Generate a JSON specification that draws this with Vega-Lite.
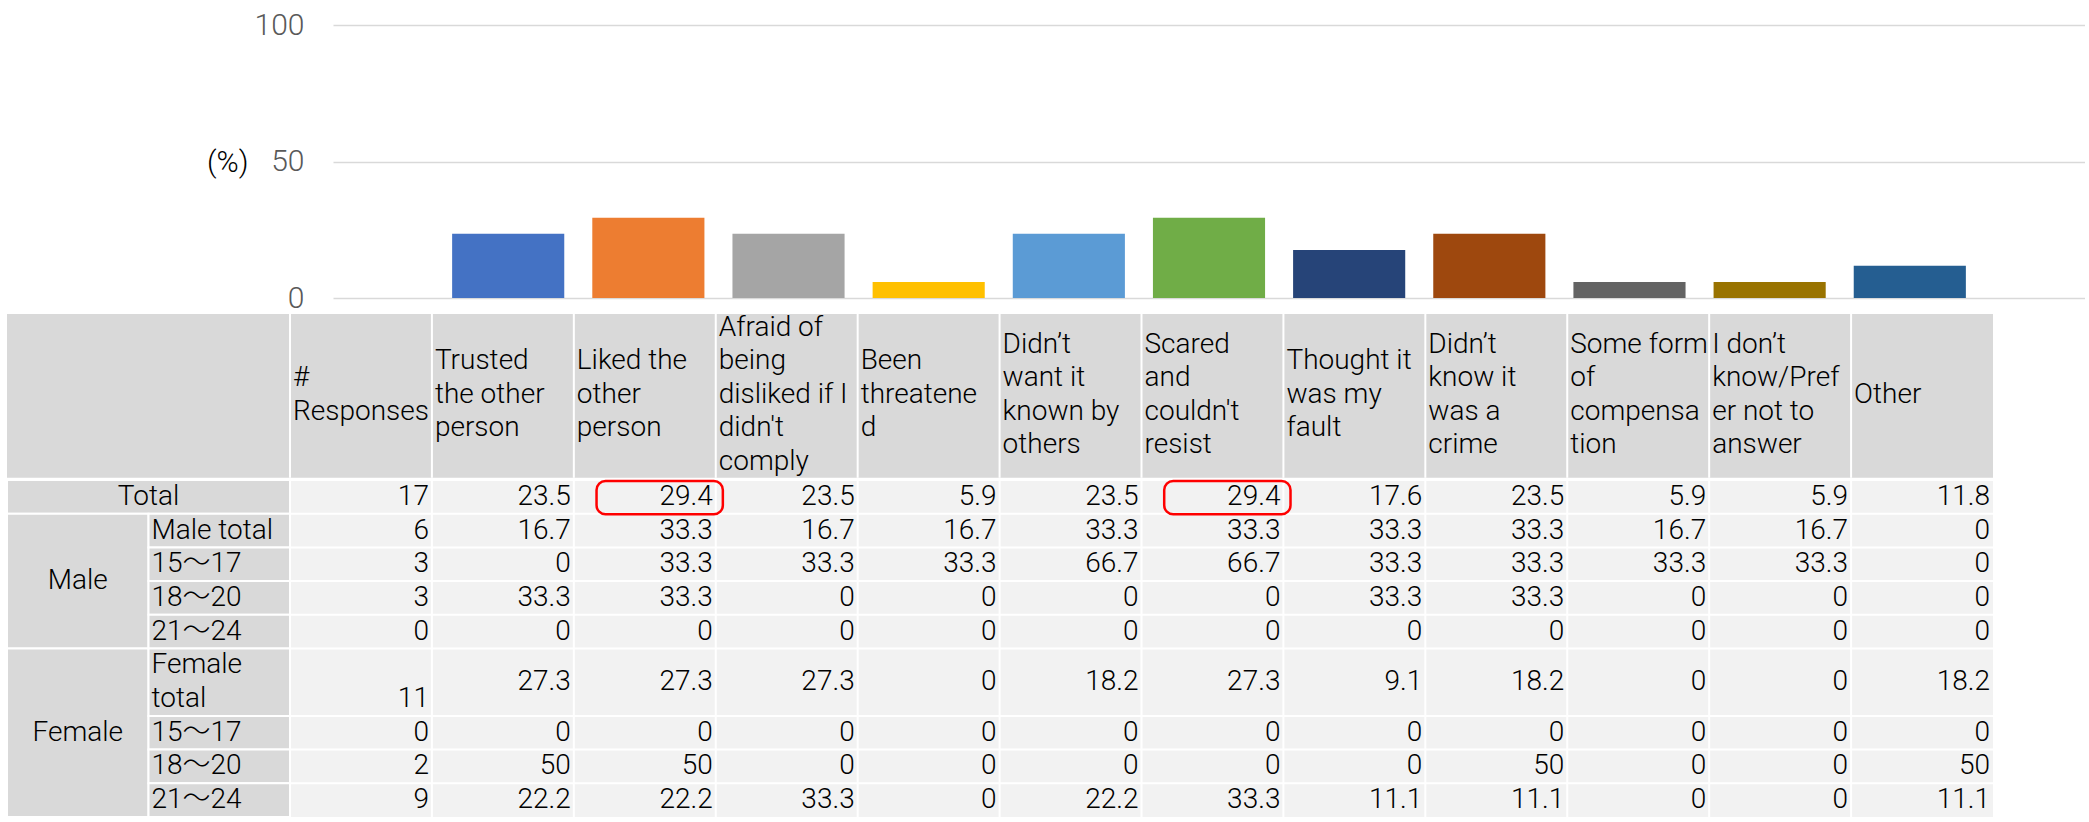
{
  "$schema": "https://vega.github.io/schema/vega-lite/v6.json",
  "padding": {"left": 6, "top": 10, "right": 0, "bottom": 0},
  "background": "white",
  "config": {
    "font": "Roboto, 'Noto Sans CJK JP', sans-serif",
    "view": {"stroke": null}
  },
  "datasets": {
    "cells": [
      {"row": "Total", "col": "#\nResponses", "v": 17},
      {"row": "Total", "col": "Trusted\nthe other\nperson", "v": 23.5},
      {"row": "Total", "col": "Liked the\nother\nperson", "v": 29.4},
      {"row": "Total", "col": "Afraid of\nbeing\ndisliked if I\ndidn't\ncomply", "v": 23.5},
      {"row": "Total", "col": "Been\nthreatene\nd", "v": 5.9},
      {"row": "Total", "col": "Didn’t\nwant it\nknown by\nothers", "v": 23.5},
      {"row": "Total", "col": "Scared\nand\ncouldn't\nresist", "v": 29.4},
      {"row": "Total", "col": "Thought it\nwas my\nfault", "v": 17.6},
      {"row": "Total", "col": "Didn’t\nknow it\nwas a\ncrime", "v": 23.5},
      {"row": "Total", "col": "Some form\nof\ncompensa\ntion", "v": 5.9},
      {"row": "Total", "col": "I don’t\nknow/Pref\ner not to\nanswer", "v": 5.9},
      {"row": "Total", "col": "Other", "v": 11.8},

      {"row": "Male total", "col": "#\nResponses", "v": 6},
      {"row": "Male total", "col": "Trusted\nthe other\nperson", "v": 16.7},
      {"row": "Male total", "col": "Liked the\nother\nperson", "v": 33.3},
      {"row": "Male total", "col": "Afraid of\nbeing\ndisliked if I\ndidn't\ncomply", "v": 16.7},
      {"row": "Male total", "col": "Been\nthreatene\nd", "v": 16.7},
      {"row": "Male total", "col": "Didn’t\nwant it\nknown by\nothers", "v": 33.3},
      {"row": "Male total", "col": "Scared\nand\ncouldn't\nresist", "v": 33.3},
      {"row": "Male total", "col": "Thought it\nwas my\nfault", "v": 33.3},
      {"row": "Male total", "col": "Didn’t\nknow it\nwas a\ncrime", "v": 33.3},
      {"row": "Male total", "col": "Some form\nof\ncompensa\ntion", "v": 16.7},
      {"row": "Male total", "col": "I don’t\nknow/Pref\ner not to\nanswer", "v": 16.7},
      {"row": "Male total", "col": "Other", "v": 0},

      {"row": "Male 15～17", "col": "#\nResponses", "v": 3},
      {"row": "Male 15～17", "col": "Trusted\nthe other\nperson", "v": 0},
      {"row": "Male 15～17", "col": "Liked the\nother\nperson", "v": 33.3},
      {"row": "Male 15～17", "col": "Afraid of\nbeing\ndisliked if I\ndidn't\ncomply", "v": 33.3},
      {"row": "Male 15～17", "col": "Been\nthreatene\nd", "v": 33.3},
      {"row": "Male 15～17", "col": "Didn’t\nwant it\nknown by\nothers", "v": 66.7},
      {"row": "Male 15～17", "col": "Scared\nand\ncouldn't\nresist", "v": 66.7},
      {"row": "Male 15～17", "col": "Thought it\nwas my\nfault", "v": 33.3},
      {"row": "Male 15～17", "col": "Didn’t\nknow it\nwas a\ncrime", "v": 33.3},
      {"row": "Male 15～17", "col": "Some form\nof\ncompensa\ntion", "v": 33.3},
      {"row": "Male 15～17", "col": "I don’t\nknow/Pref\ner not to\nanswer", "v": 33.3},
      {"row": "Male 15～17", "col": "Other", "v": 0},

      {"row": "Male 18～20", "col": "#\nResponses", "v": 3},
      {"row": "Male 18～20", "col": "Trusted\nthe other\nperson", "v": 33.3},
      {"row": "Male 18～20", "col": "Liked the\nother\nperson", "v": 33.3},
      {"row": "Male 18～20", "col": "Afraid of\nbeing\ndisliked if I\ndidn't\ncomply", "v": 0},
      {"row": "Male 18～20", "col": "Been\nthreatene\nd", "v": 0},
      {"row": "Male 18～20", "col": "Didn’t\nwant it\nknown by\nothers", "v": 0},
      {"row": "Male 18～20", "col": "Scared\nand\ncouldn't\nresist", "v": 0},
      {"row": "Male 18～20", "col": "Thought it\nwas my\nfault", "v": 33.3},
      {"row": "Male 18～20", "col": "Didn’t\nknow it\nwas a\ncrime", "v": 33.3},
      {"row": "Male 18～20", "col": "Some form\nof\ncompensa\ntion", "v": 0},
      {"row": "Male 18～20", "col": "I don’t\nknow/Pref\ner not to\nanswer", "v": 0},
      {"row": "Male 18～20", "col": "Other", "v": 0},

      {"row": "Male 21～24", "col": "#\nResponses", "v": 0},
      {"row": "Male 21～24", "col": "Trusted\nthe other\nperson", "v": 0},
      {"row": "Male 21～24", "col": "Liked the\nother\nperson", "v": 0},
      {"row": "Male 21～24", "col": "Afraid of\nbeing\ndisliked if I\ndidn't\ncomply", "v": 0},
      {"row": "Male 21～24", "col": "Been\nthreatene\nd", "v": 0},
      {"row": "Male 21～24", "col": "Didn’t\nwant it\nknown by\nothers", "v": 0},
      {"row": "Male 21～24", "col": "Scared\nand\ncouldn't\nresist", "v": 0},
      {"row": "Male 21～24", "col": "Thought it\nwas my\nfault", "v": 0},
      {"row": "Male 21～24", "col": "Didn’t\nknow it\nwas a\ncrime", "v": 0},
      {"row": "Male 21～24", "col": "Some form\nof\ncompensa\ntion", "v": 0},
      {"row": "Male 21～24", "col": "I don’t\nknow/Pref\ner not to\nanswer", "v": 0},
      {"row": "Male 21～24", "col": "Other", "v": 0},

      {"row": "Female total", "col": "#\nResponses", "v": 11},
      {"row": "Female total", "col": "Trusted\nthe other\nperson", "v": 27.3},
      {"row": "Female total", "col": "Liked the\nother\nperson", "v": 27.3},
      {"row": "Female total", "col": "Afraid of\nbeing\ndisliked if I\ndidn't\ncomply", "v": 27.3},
      {"row": "Female total", "col": "Been\nthreatene\nd", "v": 0},
      {"row": "Female total", "col": "Didn’t\nwant it\nknown by\nothers", "v": 18.2},
      {"row": "Female total", "col": "Scared\nand\ncouldn't\nresist", "v": 27.3},
      {"row": "Female total", "col": "Thought it\nwas my\nfault", "v": 9.1},
      {"row": "Female total", "col": "Didn’t\nknow it\nwas a\ncrime", "v": 18.2},
      {"row": "Female total", "col": "Some form\nof\ncompensa\ntion", "v": 0},
      {"row": "Female total", "col": "I don’t\nknow/Pref\ner not to\nanswer", "v": 0},
      {"row": "Female total", "col": "Other", "v": 18.2},

      {"row": "Female 15～17", "col": "#\nResponses", "v": 0},
      {"row": "Female 15～17", "col": "Trusted\nthe other\nperson", "v": 0},
      {"row": "Female 15～17", "col": "Liked the\nother\nperson", "v": 0},
      {"row": "Female 15～17", "col": "Afraid of\nbeing\ndisliked if I\ndidn't\ncomply", "v": 0},
      {"row": "Female 15～17", "col": "Been\nthreatene\nd", "v": 0},
      {"row": "Female 15～17", "col": "Didn’t\nwant it\nknown by\nothers", "v": 0},
      {"row": "Female 15～17", "col": "Scared\nand\ncouldn't\nresist", "v": 0},
      {"row": "Female 15～17", "col": "Thought it\nwas my\nfault", "v": 0},
      {"row": "Female 15～17", "col": "Didn’t\nknow it\nwas a\ncrime", "v": 0},
      {"row": "Female 15～17", "col": "Some form\nof\ncompensa\ntion", "v": 0},
      {"row": "Female 15～17", "col": "I don’t\nknow/Pref\ner not to\nanswer", "v": 0},
      {"row": "Female 15～17", "col": "Other", "v": 0},

      {"row": "Female 18～20", "col": "#\nResponses", "v": 2},
      {"row": "Female 18～20", "col": "Trusted\nthe other\nperson", "v": 50},
      {"row": "Female 18～20", "col": "Liked the\nother\nperson", "v": 50},
      {"row": "Female 18～20", "col": "Afraid of\nbeing\ndisliked if I\ndidn't\ncomply", "v": 0},
      {"row": "Female 18～20", "col": "Been\nthreatene\nd", "v": 0},
      {"row": "Female 18～20", "col": "Didn’t\nwant it\nknown by\nothers", "v": 0},
      {"row": "Female 18～20", "col": "Scared\nand\ncouldn't\nresist", "v": 0},
      {"row": "Female 18～20", "col": "Thought it\nwas my\nfault", "v": 0},
      {"row": "Female 18～20", "col": "Didn’t\nknow it\nwas a\ncrime", "v": 50},
      {"row": "Female 18～20", "col": "Some form\nof\ncompensa\ntion", "v": 0},
      {"row": "Female 18～20", "col": "I don’t\nknow/Pref\ner not to\nanswer", "v": 0},
      {"row": "Female 18～20", "col": "Other", "v": 50},

      {"row": "Female 21～24", "col": "#\nResponses", "v": 9},
      {"row": "Female 21～24", "col": "Trusted\nthe other\nperson", "v": 22.2},
      {"row": "Female 21～24", "col": "Liked the\nother\nperson", "v": 22.2},
      {"row": "Female 21～24", "col": "Afraid of\nbeing\ndisliked if I\ndidn't\ncomply", "v": 33.3},
      {"row": "Female 21～24", "col": "Been\nthreatene\nd", "v": 0},
      {"row": "Female 21～24", "col": "Didn’t\nwant it\nknown by\nothers", "v": 22.2},
      {"row": "Female 21～24", "col": "Scared\nand\ncouldn't\nresist", "v": 33.3},
      {"row": "Female 21～24", "col": "Thought it\nwas my\nfault", "v": 11.1},
      {"row": "Female 21～24", "col": "Didn’t\nknow it\nwas a\ncrime", "v": 11.1},
      {"row": "Female 21～24", "col": "Some form\nof\ncompensa\ntion", "v": 0},
      {"row": "Female 21～24", "col": "I don’t\nknow/Pref\ner not to\nanswer", "v": 0},
      {"row": "Female 21～24", "col": "Other", "v": 11.1}
    ],
    "rowLabels": [
      {"label": "Total", "c0": "group", "c1": "subgroup", "r0": "Total", "r1": "Total"},
      {"label": "Male", "c0": "group", "c1": "group", "r0": "Male total", "r1": "Male 21～24"},
      {"label": "Female", "c0": "group", "c1": "group", "r0": "Female total", "r1": "Female 21～24"},
      {"label": "Male total", "c0": "subgroup", "c1": "subgroup", "r0": "Male total", "r1": "Male total"},
      {"label": "15～17", "c0": "subgroup", "c1": "subgroup", "r0": "Male 15～17", "r1": "Male 15～17"},
      {"label": "18～20", "c0": "subgroup", "c1": "subgroup", "r0": "Male 18～20", "r1": "Male 18～20"},
      {"label": "21～24", "c0": "subgroup", "c1": "subgroup", "r0": "Male 21～24", "r1": "Male 21～24"},
      {"label": "Female\ntotal", "c0": "subgroup", "c1": "subgroup", "r0": "Female total", "r1": "Female total (cont.)"},
      {"label": "15～17", "c0": "subgroup", "c1": "subgroup", "r0": "Female 15～17", "r1": "Female 15～17"},
      {"label": "18～20", "c0": "subgroup", "c1": "subgroup", "r0": "Female 18～20", "r1": "Female 18～20"},
      {"label": "21～24", "c0": "subgroup", "c1": "subgroup", "r0": "Female 21～24", "r1": "Female 21～24"}
    ]
  },
  "spacing": 0,
  "vconcat": [
    {
      "spacing": 0,
      "bounds": "flush",
      "hconcat": [
        {
          "width": 326,
          "height": 270,
          "data": {"values": []},
          "mark": "point"
        },
        {
          "width": 1752,
          "height": 273,
          "data": {"name": "cells"},
          "transform": [
            {"filter": {"field": "row", "equal": "Total"}},
            {"filter": {"not": {"field": "col", "equal": "#\nResponses"}}}
          ],
          "mark": {"type": "bar"},
          "encoding": {
            "x": {"field": "col", "type": "nominal", "sort": null, "axis": null,
                  "scale": {"paddingInner": 0.2, "paddingOuter": 0.85}},
            "y": {"field": "v", "type": "quantitative",
                  "scale": {"domain": [0, 100], "nice": false},
                  "axis": {"values": [0, 50, 100], "grid": true, "gridColor": "#D9D9D9", "gridWidth": 1.5,
                           "domain": false, "ticks": false,
                           "labelFontSize": 30, "labelColor": "#595959", "labelFontWeight": 300, "labelPadding": 29,
                           "title": "(%)", "titleAngle": 0, "titleAlign": "right", "titleBaseline": "middle",
                           "titleX": -85, "titleY": 137, "titleFontSize": 30, "titleFontWeight": 300, "titleColor": "#000000"}},
            "color": {"field": "col", "type": "nominal", "sort": null, "legend": null,
                      "scale": {"range": ["#4472C4", "#ED7D31", "#A5A5A5", "#FFC000", "#5B9BD5", "#70AD47", "#264478", "#9E480E", "#636363", "#997300", "#255E91"]}}
          }
        }
      ]
    },
    {
      "spacing": 0,
      "bounds": "flush",
      "hconcat": [
        {
          "width": 283,
          "height": 163.8,
          "view": {"fill": "#D9D9D9", "stroke": null},
          "data": {"values": []},
          "mark": "point"
        },
        {
          "width": 1703,
          "height": 163.8,
          "view": {"fill": "#D9D9D9", "stroke": null},
          "data": {"name": "cells"},
          "transform": [{"filter": {"field": "row", "equal": "Total"}}],
          "encoding": {
            "x": {"field": "col", "type": "nominal", "sort": null, "bandPosition": 0, "axis": null,
                  "scale": {"paddingInner": 0, "paddingOuter": 0}},
            "text": {"field": "col", "type": "nominal"}
          },
          "layer": [
            {
              "mark": {"type": "rule", "color": "white", "strokeWidth": 2}
            },
            {
              "transform": [{"filter": "length(split(datum.col, '\\n')) == 1"}],
              "mark": {"type": "text", "align": "left", "baseline": "middle", "dx": 3, "dy": -1, "lineBreak": "\n",
                       "lineHeight": 33.5, "fontSize": 28, "fontWeight": 300, "color": "#000000"}
            },
            {
              "transform": [{"filter": "length(split(datum.col, '\\n')) == 2"}],
              "mark": {"type": "text", "align": "left", "baseline": "middle", "dx": 3, "dy": -17.75, "lineBreak": "\n",
                       "lineHeight": 33.5, "fontSize": 28, "fontWeight": 300, "color": "#000000"}
            },
            {
              "transform": [{"filter": "length(split(datum.col, '\\n')) == 3"}],
              "mark": {"type": "text", "align": "left", "baseline": "middle", "dx": 3, "dy": -34.5, "lineBreak": "\n",
                       "lineHeight": 33.5, "fontSize": 28, "fontWeight": 300, "color": "#000000"}
            },
            {
              "transform": [{"filter": "length(split(datum.col, '\\n')) == 4"}],
              "mark": {"type": "text", "align": "left", "baseline": "middle", "dx": 3, "dy": -51.25, "lineBreak": "\n",
                       "lineHeight": 33.5, "fontSize": 28, "fontWeight": 300, "color": "#000000"}
            },
            {
              "transform": [{"filter": "length(split(datum.col, '\\n')) == 5"}],
              "mark": {"type": "text", "align": "left", "baseline": "middle", "dx": 3, "dy": -68, "lineBreak": "\n",
                       "lineHeight": 33.5, "fontSize": 28, "fontWeight": 300, "color": "#000000"}
            }
          ]
        }
      ]
    },
    {
      "spacing": 0,
      "bounds": "flush",
      "hconcat": [
        {
          "width": 283,
          "height": 337,
          "data": {"name": "rowLabels"},
          "layer": [
            {
              "mark": {"type": "rect", "fill": "#D9D9D9", "stroke": "white", "strokeWidth": 2},
              "encoding": {
                "x": {"field": "c0", "type": "nominal", "bandPosition": 0, "axis": null,
                      "scale": {"domain": ["group", "subgroup"], "paddingInner": 0, "paddingOuter": 0}},
                "x2": {"field": "c1", "bandPosition": 1},
                "y": {"field": "r0", "type": "nominal", "bandPosition": 0, "axis": null,
                      "scale": {"domain": ["Total", "Male total", "Male 15～17", "Male 18～20", "Male 21～24", "Female total", "Female total (cont.)", "Female 15～17", "Female 18～20", "Female 21～24"],
                                "paddingInner": 0, "paddingOuter": 0}},
                "y2": {"field": "r1", "bandPosition": 1}
              }
            },
            {
              "transform": [{"filter": "datum.c0 == 'subgroup' && datum.r0 == datum.r1"}],
              "mark": {"type": "text", "align": "left", "baseline": "middle", "dx": 3, "fontSize": 28, "fontWeight": 300, "color": "#000000"},
              "encoding": {
                "x": {"field": "c0", "type": "nominal", "bandPosition": 0},
                "y": {"field": "r0", "type": "nominal", "bandPosition": 0.5},
                "text": {"field": "label", "type": "nominal"}
              }
            },
            {
              "transform": [{"filter": "datum.c0 == 'subgroup' && datum.r0 != datum.r1"}],
              "mark": {"type": "text", "align": "left", "baseline": "middle", "dx": 3, "dy": -16.75, "fontSize": 28, "fontWeight": 300, "color": "#000000", "lineBreak": "\n", "lineHeight": 33.5},
              "encoding": {
                "x": {"field": "c0", "type": "nominal", "bandPosition": 0},
                "y": {"field": "r0", "type": "nominal", "bandPosition": 1},
                "text": {"field": "label", "type": "nominal"}
              }
            },
            {
              "transform": [{"filter": "datum.c0 != datum.c1"}],
              "mark": {"type": "text", "align": "center", "baseline": "middle", "fontSize": 28, "fontWeight": 300, "color": "#000000"},
              "encoding": {
                "x": {"field": "c1", "type": "nominal", "bandPosition": 0},
                "y": {"field": "r0", "type": "nominal", "bandPosition": 0.5},
                "text": {"field": "label", "type": "nominal"}
              }
            },
            {
              "transform": [{"filter": {"field": "label", "equal": "Male"}}],
              "mark": {"type": "text", "align": "center", "baseline": "middle", "fontSize": 28, "fontWeight": 300, "color": "#000000"},
              "encoding": {
                "x": {"field": "c0", "type": "nominal", "bandPosition": 0.5},
                "y": {"field": "r0", "type": "nominal", "bandPosition": 2},
                "text": {"field": "label", "type": "nominal"}
              }
            },
            {
              "transform": [{"filter": {"field": "label", "equal": "Female"}}],
              "mark": {"type": "text", "align": "center", "baseline": "middle", "fontSize": 28, "fontWeight": 300, "color": "#000000"},
              "encoding": {
                "x": {"field": "c0", "type": "nominal", "bandPosition": 0.5},
                "y": {"field": "r0", "type": "nominal", "bandPosition": 2.5},
                "text": {"field": "label", "type": "nominal"}
              }
            }
          ]
        },
        {
          "width": 1703,
          "height": 337,
          "view": {"fill": "#F2F2F2", "stroke": null},
          "data": {"name": "cells"},
          "layer": [
            {
              "transform": [{"filter": {"field": "row", "equal": "Total"}}],
              "mark": {"type": "rule", "color": "white", "strokeWidth": 2},
              "encoding": {
                "x": {"field": "col", "type": "nominal", "sort": null, "bandPosition": 0, "axis": null,
                      "scale": {"paddingInner": 0, "paddingOuter": 0}}
              }
            },
            {
              "transform": [{"filter": {"field": "col", "equal": "#\nResponses"}}],
              "mark": {"type": "rule", "color": "white", "strokeWidth": 2},
              "encoding": {
                "y": {"field": "row", "type": "nominal", "bandPosition": 0, "axis": null,
                      "scale": {"domain": ["Total", "Male total", "Male 15～17", "Male 18～20", "Male 21～24", "Female total", "Female total (cont.)", "Female 15～17", "Female 18～20", "Female 21～24"],
                                "paddingInner": 0, "paddingOuter": 0}}
              }
            },
            {
              "transform": [{"filter": {"not": {"field": "row", "equal": "Female total"}}}],
              "mark": {"type": "text", "align": "right", "baseline": "middle", "dx": -3, "fontSize": 28, "fontWeight": 300, "color": "#000000"},
              "encoding": {
                "x": {"field": "col", "type": "nominal", "sort": null, "bandPosition": 1},
                "y": {"field": "row", "type": "nominal", "bandPosition": 0.5},
                "text": {"field": "v", "type": "nominal"}
              }
            },
            {
              "transform": [{"filter": {"and": [{"field": "row", "equal": "Female total"}, {"not": {"field": "col", "equal": "#\nResponses"}}]}}],
              "mark": {"type": "text", "align": "right", "baseline": "middle", "dx": -3, "fontSize": 28, "fontWeight": 300, "color": "#000000"},
              "encoding": {
                "x": {"field": "col", "type": "nominal", "sort": null, "bandPosition": 1},
                "y": {"field": "row", "type": "nominal", "bandPosition": 1},
                "text": {"field": "v", "type": "nominal"}
              }
            },
            {
              "transform": [{"filter": {"and": [{"field": "row", "equal": "Female total"}, {"field": "col", "equal": "#\nResponses"}]}}],
              "mark": {"type": "text", "align": "right", "baseline": "middle", "dx": -3, "fontSize": 28, "fontWeight": 300, "color": "#000000"},
              "encoding": {
                "x": {"field": "col", "type": "nominal", "sort": null, "bandPosition": 1},
                "y": {"field": "row", "type": "nominal", "bandPosition": 1.5},
                "text": {"field": "v", "type": "nominal"}
              }
            },
            {
              "transform": [
                {"filter": {"field": "row", "equal": "Total"}},
                {"filter": {"not": {"field": "col", "equal": "#\nResponses"}}},
                {"joinaggregate": [{"op": "max", "field": "v", "as": "vmax"}]},
                {"filter": "datum.v == datum.vmax"}
              ],
              "mark": {"type": "rect", "fill": null, "stroke": "#FF0000", "strokeWidth": 2.5, "cornerRadius": 9},
              "encoding": {
                "x": {"field": "col", "type": "nominal", "sort": null, "bandPosition": 0.16},
                "x2": {"field": "col", "bandPosition": 1.05},
                "y": {"field": "row", "type": "nominal", "bandPosition": 0.03},
                "y2": {"field": "row", "bandPosition": 1.02}
              }
            }
          ]
        }
      ]
    }
  ]
}
